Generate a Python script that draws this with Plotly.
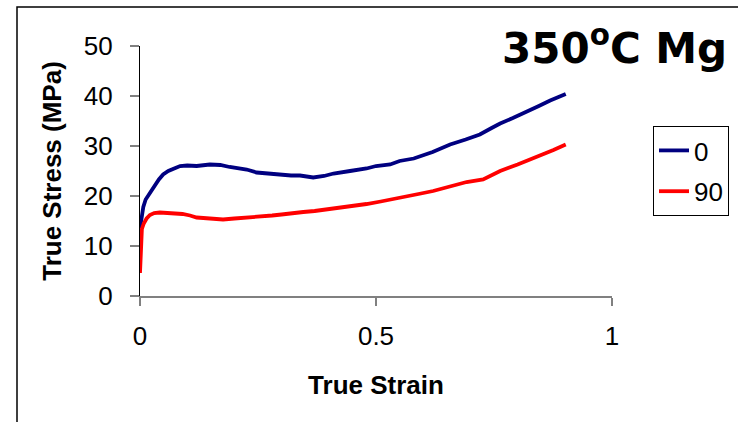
import plotly.graph_objects as go

# True stress-strain curves, magnesium sheet tested at 350 C
strain_0 = [0.000, 0.003, 0.007, 0.012, 0.021, 0.030, 0.040, 0.049, 0.060, 0.075,
            0.085, 0.100, 0.120, 0.148, 0.170, 0.190, 0.210, 0.226, 0.247, 0.270,
            0.300, 0.320, 0.339, 0.367, 0.390, 0.410, 0.445, 0.480, 0.500, 0.530,
            0.550, 0.580, 0.620, 0.657, 0.690, 0.720, 0.745, 0.763, 0.790, 0.819,
            0.845, 0.869, 0.885, 0.902]
stress_0 = [13.5, 16.0, 17.8, 19.3, 20.6, 22.0, 23.3, 24.3, 25.0, 25.6,
            26.0, 26.1, 26.0, 26.3, 26.2, 25.8, 25.6, 25.3, 24.7, 24.5,
            24.1, 24.1, 24.1, 23.7, 24.0, 24.5, 25.0, 25.5, 26.0, 26.3,
            27.0, 27.5, 28.8, 30.3, 31.3, 32.3, 33.6, 34.5, 35.6, 36.8,
            38.0, 39.1, 39.8, 40.4]

strain_90 = [0.000, 0.001, 0.002, 0.004, 0.008, 0.014, 0.021, 0.030, 0.042, 0.055,
             0.070, 0.090, 0.106, 0.120, 0.134, 0.150, 0.176, 0.200, 0.219, 0.240,
             0.260, 0.280, 0.300, 0.320, 0.346, 0.370, 0.395, 0.410, 0.440, 0.480,
             0.510, 0.551, 0.590, 0.621, 0.660, 0.692, 0.727, 0.745, 0.763, 0.800,
             0.833, 0.855, 0.876, 0.902]
stress_90 = [4.6, 8.0, 12.5, 13.4, 14.5, 15.5, 16.2, 16.6, 16.7, 16.6,
             16.6, 16.4, 16.1, 15.7, 15.6, 15.5, 15.3, 15.5, 15.6, 15.8,
             15.9, 16.1, 16.3, 16.6, 16.8, 17.0, 17.3, 17.5, 17.9, 18.4,
             18.9, 19.6, 20.4, 21.0, 22.0, 22.8, 23.3, 24.2, 25.0, 26.3,
             27.5, 28.4, 29.2, 30.3]

x_ticks = [0, 0.5, 1]
x_tick_text = ["0", "0.5", "1"]
y_ticks = [0, 10, 20, 30, 40, 50]

ARIAL = "Liberation Sans, Arial, sans-serif"

fig = go.Figure()
fig.add_trace(go.Scatter(x=strain_0, y=stress_0, mode="lines", name="0",
                         legendgroup="a",
                         line=dict(color="#000080", width=3.8)))
fig.add_trace(go.Scatter(x=strain_90, y=stress_90, mode="lines", name="90",
                         legendgroup="b",
                         line=dict(color="#FF0000", width=3.8)))

fig.update_layout(
    width=738, height=422,
    margin=dict(l=140, r=126, t=46, b=126, autoexpand=False),
    paper_bgcolor="white", plot_bgcolor="white",
    font=dict(family=ARIAL, color="black"),
    showlegend=True,
    legend=dict(x=(653 - 140) / 472, y=(296 - 126) / 250,
                xanchor="left", yanchor="top",
                bordercolor="black", borderwidth=1, bgcolor="white",
                font=dict(size=26, family=ARIAL), tracegroupgap=4,
                itemwidth=30),
    xaxis=dict(range=[0, 1], tickvals=x_ticks, ticktext=x_tick_text,
               showgrid=False, zeroline=False,
               showline=True, linecolor="#808080", linewidth=1.5,
               ticks="outside", ticklen=8, tickcolor="#808080", tickwidth=1.5,
               tickfont=dict(size=26), ticklabelstandoff=8,
               title=dict(text="<b>True Strain</b>", font=dict(size=26),
                          standoff=26)),
    yaxis=dict(range=[0, 50], tickvals=y_ticks,
               showgrid=False, zeroline=False,
               showline=True, linecolor="black", linewidth=1.2,
               ticks="outside", ticklen=9, tickcolor="#808080", tickwidth=1.5,
               tickfont=dict(size=26), ticklabelstandoff=12,
               title=dict(text="<b>True Stress (MPa)</b>", font=dict(size=26),
                          standoff=14)),
)

# chart title in the upper right corner
fig.add_annotation(text="<b>350<sup>o</sup>C Mg</b>", xref="paper", yref="paper",
                   x=(729 - 140) / 472, y=(296 - 16) / 250,
                   xanchor="right", yanchor="top", showarrow=False,
                   font=dict(family="DejaVu Sans, Verdana, sans-serif", size=42,
                             color="black"))

# chart-area frame (runs off the right and bottom edges)
fig.add_shape(type="rect", xref="paper", yref="paper",
              x0=(17 - 140) / 472, x1=(800 - 140) / 472,
              y0=(296 - 500) / 250, y1=(296 - 7) / 250,
              line=dict(color="black", width=1.5), fillcolor="rgba(0,0,0,0)",
              layer="below")

fig.write_html("out.html")
